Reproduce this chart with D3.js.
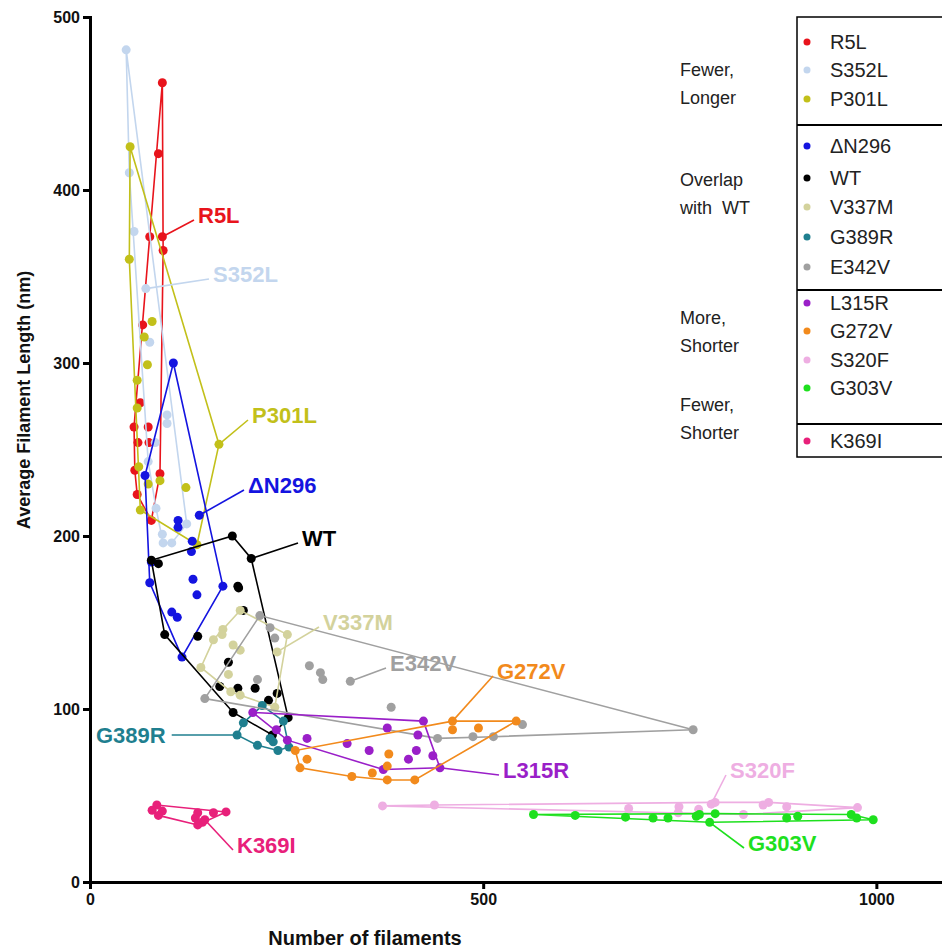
<!DOCTYPE html>
<html>
<head>
<meta charset="utf-8">
<script src="https://cdn.jsdelivr.net/npm/d3@7"></script>
<style>
body { margin: 0; background: #fff; }
svg { font-family: "Liberation Sans", Arial, sans-serif; }
</style>
</head>
<body>
<svg id="chart" width="942" height="951"></svg>
<script>
// [number of filaments, average length nm]
const r5l = [[92,462],[87,421],[76,373],[92,373],[93,365],[67,322],[64,277],[56,263],[74,263],[61,254],[75,254],[57,238],[89,236],[60,224],[78,209]];
const s352l = [[46,481],[50,410],[56,376],[71,343],[76,312],[98,270],[98,265],[83,254],[74,243],[123,207],[92,201],[104,196],[93,196],[84,216]];
const p301l = [[51,425],[50,360],[79,324],[69,315],[73,299],[60,290],[60,274],[164,253],[62,240],[74,230],[89,232],[122,228],[64,215],[136,195]];
const dn296 = [[106,300],[70,235],[139,212],[112,209],[112,205],[130,197],[129,191],[78,185],[76,173],[131,175],[136,166],[169,171],[104,156],[111,153],[117,130]];
const wt = [[78,186],[87,184],[181,200],[205,187],[188,171],[189,170],[195,157],[95,143],[137,142],[176,127],[165,113],[188,112],[210,112],[238,109],[227,105],[182,98],[252,95],[232,85]];
const v337m = [[191,157],[169,146],[168,143],[157,140],[182,137],[191,134],[238,133],[251,143],[141,124],[176,120],[179,110],[191,108],[235,101]];
const g389r = [[219,102],[195,92],[187,85],[213,79],[239,76],[253,78],[246,93],[229,83],[233,81]];
const e342v = [[216,154],[229,147],[235,141],[279,125],[293,121],[296,117],[331,116],[213,117],[146,106],[383,101],[442,83],[550,91],[767,88],[487,84],[513,84]];
const l315r = [[207,98],[237,88],[251,82],[276,83],[327,80],[355,76],[378,89],[417,85],[424,93],[415,76],[405,71],[436,73],[373,65],[445,66]];
const g272v = [[261,76],[276,71],[267,66],[333,61],[359,63],[378,59],[413,59],[380,74],[378,67],[461,93],[461,88],[494,89],[542,93]];
const s320f = [[372,44],[438,44.5],[685,42.5],[749,43.5],[748,40],[795,46],[790,45],[863,46],[856,44.5],[886,43.5],[976,43],[774,42],[831,39]];
const g303v = [[564,39],[617,38.5],[681,37.5],[716,37],[735,37],[771,38],[775,39],[795,39.5],[788,34.5],[886,37],[900,38],[968,39],[975,37],[996,36]];
const k369i = [[85,44.5],[79,41.5],[92,41],[87,38.5],[137,40],[134,37],[143,34.5],[146,36],[157,40],[173,40.5],[137,33]];

const names = ['R5L','S352L','P301L','\u0394N296','WT','V337M','G389R','E342V','L315R','G272V','S320F','G303V','K369I'];
const series = [r5l, s352l, p301l, dn296, wt, v337m, g389r, e342v, l315r, g272v, s320f, g303v, k369i];
const colors = ['#e8141c','#c3d6ee','#c2c01a','#1414e0','#000000','#d3d29c','#1f7f8f','#a0a0a0','#9a1fc8','#f28a1c','#eeaee2','#1ee01e','#e8207a'];

const yTicks = [0, 100, 200, 300, 400, 500];
const xTicks = [0, 500, 1000];

// legend sections and captions
const sections = [
  {lines: ['Fewer,', 'Longer'], rows: 3},
  {lines: ['Overlap', 'with  WT'], rows: 5},
  {lines: ['More,', 'Shorter'], rows: 4},
  {lines: ['Fewer,', 'Shorter'], rows: 1}
];

// label layout: text position (px) and which point the leader goes to
const labelPos = [
  {x: 198, y: 223, pt: 3},
  {x: 213, y: 282, pt: 3},
  {x: 252, y: 423, pt: 7},
  {x: 248, y: 493, pt: 2},
  {x: 302, y: 546, pt: 3},
  {x: 323, y: 630, pt: 6},
  {x: 96,  y: 743, pt: 2, left: true},
  {x: 390, y: 671, pt: 6},
  {x: 503, y: 778, pt: 13},
  {x: 497, y: 679, pt: 9},
  {x: 730, y: 778, pt: 6},
  {x: 748, y: 851, pt: 8},
  {x: 237, y: 853, pt: 7}
];

const svg = d3.select('#chart');
const x = d3.scaleLinear().domain([0, 1100]).range([90, 955]);
const y = d3.scaleLinear().domain([0, 500]).range([882, 17]);

// axes
const yAxis = svg.append('g')
  .attr('transform', 'translate(90,0)')
  .call(d3.axisLeft(y).tickValues(yTicks).tickSize(7).tickPadding(3).tickFormat(d3.format('d')));
const xAxis = svg.append('g')
  .attr('transform', 'translate(0,882)')
  .call(d3.axisBottom(x).tickValues(xTicks).tickSize(7).tickPadding(5).tickFormat(d3.format('d')));
[yAxis, xAxis].forEach(a => {
  a.select('.domain').attr('stroke', '#000').attr('stroke-width', 3);
  a.selectAll('.tick line').attr('stroke', '#000').attr('stroke-width', 3);
  a.selectAll('.tick text').attr('fill', '#111').attr('font-size', 16).attr('font-weight', 'bold')
    .attr('font-family', '"Liberation Sans", Arial, sans-serif');
});

svg.append('text').attr('x', 365).attr('y', 945).attr('text-anchor', 'middle')
  .attr('font-size', 20).attr('font-weight', 'bold').attr('fill', '#111')
  .text('Number of filaments');
svg.append('text').attr('transform', 'translate(30,400) rotate(-90)').attr('text-anchor', 'middle')
  .attr('font-size', 18).attr('font-weight', 'bold').attr('fill', '#111')
  .text('Average Filament Length (nm)');

// hulls and points
const plot = svg.append('g');
series.forEach((pts, i) => {
  const px = pts.map(p => [x(p[0]), y(p[1])]);
  const hull = d3.polygonHull(px);
  plot.append('path')
    .attr('d', 'M' + hull.join('L') + 'Z')
    .attr('fill', 'none').attr('stroke', colors[i]).attr('stroke-width', 1.6);
  plot.selectAll(null).data(px).enter().append('circle')
    .attr('cx', d => d[0]).attr('cy', d => d[1]).attr('r', 4.5)
    .attr('fill', colors[i]);
});

// labels with leader lines
labelPos.forEach((l, i) => {
  const p = series[i][l.pt];
  const t = svg.append('text').attr('x', l.x).attr('y', l.y)
    .attr('font-size', 22).attr('font-weight', 'bold').attr('fill', colors[i])
    .text(names[i]);
  const w = t.node().getComputedTextLength();
  const sx = l.left ? l.x + w + 6 : l.x - 4;
  const sy = l.left ? l.y - 8 : l.y - 3;
  svg.append('line').attr('x1', sx).attr('y1', sy).attr('x2', x(p[0])).attr('y2', y(p[1]))
    .attr('stroke', colors[i]).attr('stroke-width', 1.6);
});

// legend
const leg = svg.append('g');
const rowY = [42, 70, 99, 146, 178, 207, 237, 267, 303, 331, 360, 388, 441];
const sepY = [125, 290, 424];
leg.append('rect').attr('x', 797).attr('y', 17).attr('width', 150).attr('height', 440)
  .attr('fill', '#fff').attr('stroke', '#000').attr('stroke-width', 1.5);
sepY.forEach(s => leg.append('line').attr('x1', 797).attr('x2', 942).attr('y1', s).attr('y2', s)
  .attr('stroke', '#000').attr('stroke-width', 2));
names.forEach((n, i) => {
  leg.append('circle').attr('cx', 807).attr('cy', rowY[i]).attr('r', 3.5).attr('fill', colors[i]);
  leg.append('text').attr('x', 830).attr('y', rowY[i] + 7).attr('font-size', 20).attr('fill', '#222').text(n);
});
const capY = [[70, 98], [180, 208], [318, 346], [405, 433]];
sections.forEach((s, i) => {
  s.lines.forEach((ln, j) => {
    leg.append('text').attr('x', 680).attr('y', capY[i][j] + 6).attr('font-size', 18).attr('fill', '#222')
      .style('white-space', 'pre').text(ln);
  });
});
</script>
</body>
</html>
